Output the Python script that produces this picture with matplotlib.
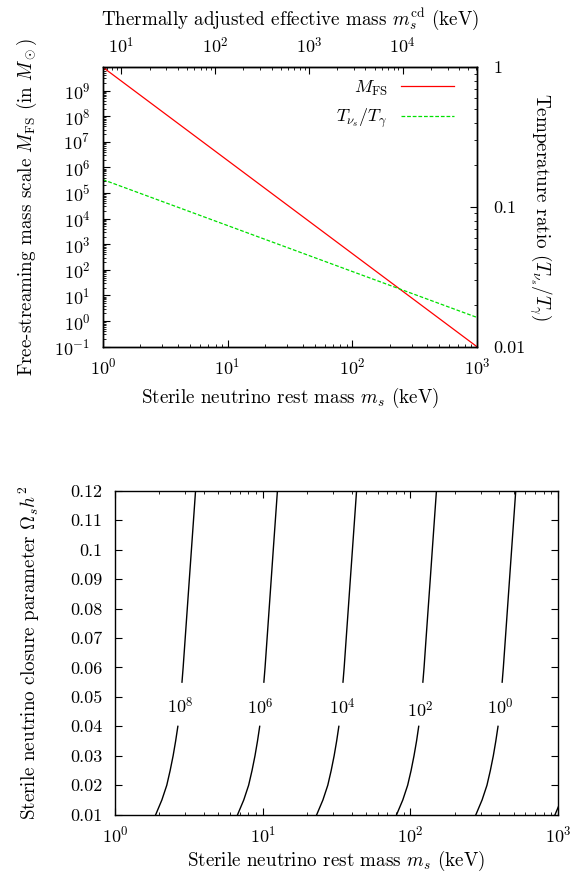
import numpy as np
import matplotlib
matplotlib.use("Agg")
import matplotlib.pyplot as plt
from matplotlib.ticker import LogLocator, NullFormatter, FixedLocator

plt.rcParams['font.family'] = 'serif'
plt.rcParams['font.serif'] = ['cmr10']
plt.rcParams['mathtext.fontset'] = 'cm'
plt.rcParams['axes.formatter.use_mathtext'] = True
plt.rcParams['axes.unicode_minus'] = False

# top panel: free-streaming mass and temperature ratio vs rest mass (keV)
m_fs = [1.0, 1000.0]
M_fs = [8.2e9, 0.1]
m_temp = [1.0, 1000.0]
T_ratio = [0.157, 0.0162]

# top axis tick values (keV)
cd_ticks = [10, 100, 1000, 10000]

# bottom panel: contours of M_FS in (m_s, Omega_s h^2)
contour_levels = [8, 6, 4, 2, 0, -2]
omega_lo = [0.01, 0.015, 0.02, 0.025, 0.03, 0.035, 0.04]
omega_hi = [0.055, 0.06, 0.07, 0.08, 0.09, 0.10, 0.11, 0.12]
m_lo = {
    8: [1.886, 2.077, 2.242, 2.363, 2.475, 2.574, 2.665],
    6: [6.761, 7.447, 8.035, 8.472, 8.872, 9.226, 9.550],
    4: [23.23, 25.59, 27.61, 29.11, 30.48, 31.70, 32.81],
    2: [80.72, 88.92, 95.94, 101.2, 105.9, 110.2, 114.0],
    0: [278.0, 306.2, 330.4, 348.3, 364.8, 379.3, 392.6],
    -2: [955.0, 1052.0],
}
m_hi = {
    8: [2.842, 2.894, 2.989, 3.087, 3.188, 3.293, 3.401, 3.512],
    6: [10.19, 10.38, 10.72, 11.07, 11.43, 11.80, 12.19, 12.59],
    4: [34.99, 35.65, 36.81, 38.02, 39.26, 40.55, 41.88, 43.25],
    2: [121.6, 123.9, 127.9, 132.1, 136.5, 140.9, 145.5, 150.3],
    0: [418.8, 426.6, 440.6, 455.0, 469.9, 485.3, 501.2, 517.6],
}
label_m = {8: 2.78, 6: 9.69, 4: 34.6, 2: 117.5, 0: 408.0}
label_omega = {8: 0.0468, 6: 0.0465, 4: 0.0465, 2: 0.0455, 0: 0.0465}

fig = plt.figure(figsize=(5.75, 8.73), dpi=100)

TICK = 13
LAB = 13.75

# ---- top panel ----
ax1 = fig.add_axes([0.179, 0.6029, 0.6504, 0.3200])
ax1.set_xscale('log')
ax1.set_yscale('log')
l1, = ax1.plot(m_fs, M_fs, color='#ff0000', lw=0.9, label=r'$M_{\rm FS}$')
ax1.set_xlim(1, 1000)
ax1.set_ylim(0.1, 8.2e9)
ax1.yaxis.set_major_locator(LogLocator(base=10, numticks=30))
ax1.yaxis.set_minor_locator(LogLocator(base=10, subs=np.arange(2, 10), numticks=30))
ax1.yaxis.set_minor_formatter(NullFormatter())
ax1.xaxis.set_minor_formatter(NullFormatter())
ax1.tick_params(axis='y', which='major', pad=9)
ax1.tick_params(axis='x', which='major', pad=7)
ax1.tick_params(which='major', length=5, direction='in', labelsize=TICK)
ax1.tick_params(which='minor', length=2.5, direction='in')
ax1.set_xlabel(r'Sterile neutrino rest mass $m_s$ (keV)', fontsize=LAB, labelpad=6)
ax1.set_ylabel(r'Free-streaming mass scale $M_{\rm FS}$ (in $M_\odot$)', fontsize=LAB, labelpad=11)

ax1r = ax1.twinx()
ax1r.set_yscale('log')
l2, = ax1r.plot(m_temp, T_ratio, color='#00e000', lw=0.9, ls=(0, (3, 1.5)), label=r'$T_{\nu_s}/T_\gamma$')
ax1r.set_ylim(0.01, 1)
ax1r.set_yticks([0.01, 0.1, 1])
ax1r.set_yticklabels(['0.01', '0.1', '1'])
ax1r.yaxis.set_minor_formatter(NullFormatter())
ax1r.tick_params(which='major', length=5, pad=12, direction='in', labelsize=TICK)
ax1r.tick_params(which='minor', length=2.5, direction='in')
ax1r.set_ylabel(r'Temperature ratio $(T_{\nu_s}/T_\gamma)$', fontsize=LAB, rotation=270, labelpad=20)

# top axis: effective mass m / (T_nu/T_gamma), from the temperature line
a, b = np.polyfit(np.log10(m_temp), np.log10(T_ratio), 1)


def fwd(m):
    m = np.asarray(m, dtype=float)
    return 10 ** ((1 - a) * np.log10(np.clip(m, 1e-30, None)) - b)


def inv(c):
    c = np.asarray(c, dtype=float)
    return 10 ** ((np.log10(np.clip(c, 1e-30, None)) + b) / (1 - a))


lo_cd, hi_cd = float(fwd(1.0)), float(fwd(1000.0))
minor_cd = [k * 10 ** e for e in range(0, 6) for k in range(2, 10)
            if lo_cd <= k * 10 ** e <= hi_cd]
ax1t = ax1.secondary_xaxis('top', functions=(fwd, inv))
ax1t.xaxis.set_major_locator(FixedLocator(cd_ticks))
ax1t.xaxis.set_minor_locator(FixedLocator(minor_cd))
ax1t.xaxis.set_minor_formatter(NullFormatter())
ax1t.set_xticks(cd_ticks)
ax1t.set_xticklabels([r'$10^{%d}$' % round(np.log10(v)) for v in cd_ticks])
ax1t.tick_params(which='major', length=5, direction='in', labelsize=TICK, pad=8)
ax1t.tick_params(which='minor', length=2.5, direction='in')
ax1t.set_xlabel(r'Thermally adjusted effective mass $m_s^{\rm cd}$ (keV)', fontsize=LAB, labelpad=8)

leg = ax1.legend([l1, l2], [l1.get_label(), l2.get_label()], loc='upper right',
                 bbox_to_anchor=(0.957, 0.985), borderaxespad=0,
                 frameon=False, markerfirst=False, fontsize=TICK, handlelength=2.9,
                 handletextpad=0.75, labelspacing=0.5)

# ---- bottom panel ----
ax2 = fig.add_axes([0.2, 0.0668, 0.7704, 0.3711])
ax2.set_xscale('log')
for lev in contour_levels:
    ax2.plot(m_lo[lev], omega_lo[:len(m_lo[lev])], color='black', lw=1.0)
    if lev in m_hi:
        ax2.plot(m_hi[lev], omega_hi, color='black', lw=1.0)
    if lev in label_m:
        ax2.text(label_m[lev], label_omega[lev], r'$10^{%d}$' % lev,
                 ha='center', va='center', fontsize=TICK)
ax2.set_xlim(1, 1000)
ax2.set_ylim(0.01, 0.12)
ax2.set_yticks(np.arange(1, 13) / 100)
ax2.set_yticklabels(['0.01', '0.02', '0.03', '0.04', '0.05', '0.06', '0.07',
                     '0.08', '0.09', '0.1', '0.11', '0.12'])
ax2.xaxis.set_minor_formatter(NullFormatter())
ax2.tick_params(axis='y', which='major', pad=9)
ax2.tick_params(axis='x', which='major', pad=7)
ax2.tick_params(which='major', length=5, direction='in', labelsize=TICK, top=True, right=True)
ax2.tick_params(which='minor', length=2.5, direction='in', top=True, right=True)
ax2.set_xlabel(r'Sterile neutrino rest mass $m_s$ (keV)', fontsize=LAB, labelpad=3)
ax2.set_ylabel(r'Sterile neutrino closure parameter $\Omega_s h^2$', fontsize=LAB, labelpad=20)

for ax in (ax1, ax1r, ax2):
    for s in ax.spines.values():
        s.set_linewidth(1.0)

fig.savefig('out.png', dpi=100)
